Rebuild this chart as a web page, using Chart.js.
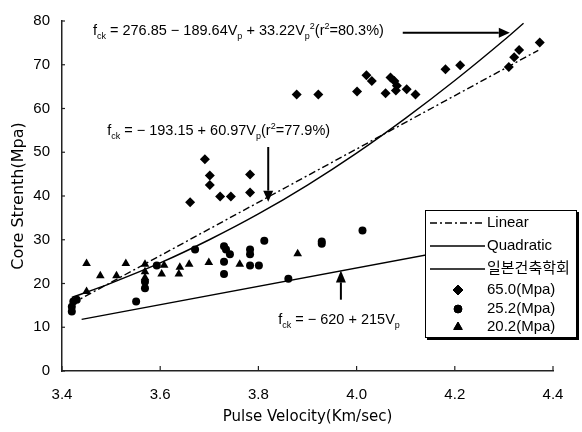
<!DOCTYPE html>
<html><head><meta charset="utf-8">
<script src="https://cdn.jsdelivr.net/npm/chart.js@4/dist/chart.umd.min.js"></script>
<style>html,body{margin:0;padding:0;background:#fff;}#wrap{width:582px;height:432px;}</style>
</head><body><div id="wrap"><canvas id="c" width="582" height="432"></canvas></div>
<script>
// ---- data ----
const xTicks = [3.4, 3.6, 3.8, 4.0, 4.2, 4.4];
const yTicks = [0, 10, 20, 30, 40, 50, 60, 70, 80];

const v65 = [3.661, 3.691, 3.701, 3.701, 3.722, 3.744, 3.783, 3.783, 3.878, 3.922, 4.001, 4.020, 4.031, 4.059, 4.069, 4.077, 4.082, 4.080, 4.102, 4.120, 4.181, 4.211, 4.310, 4.321, 4.331, 4.373];
const f65 = [38.6, 48.4, 44.7, 42.5, 39.9, 39.9, 44.9, 40.8, 63.2, 63.2, 63.9, 67.6, 66.3, 63.5, 67.1, 66.3, 65.2, 64.1, 64.4, 63.2, 69.0, 69.9, 69.5, 71.7, 73.4, 75.1];

const v25 = [3.420, 3.420, 3.423, 3.430, 3.551, 3.569, 3.569, 3.593, 3.671, 3.730, 3.734, 3.742, 3.730, 3.730, 3.783, 3.783, 3.783, 3.801, 3.812, 3.861, 3.929, 3.929, 4.012];
const f25 = [13.6, 14.7, 15.9, 16.3, 15.9, 18.9, 20.4, 24.1, 27.8, 28.5, 27.8, 26.7, 25.0, 22.2, 27.8, 26.7, 24.1, 24.1, 29.8, 21.1, 29.1, 29.6, 32.1];

const v20 = [3.450, 3.450, 3.478, 3.511, 3.530, 3.569, 3.569, 3.569, 3.603, 3.608, 3.638, 3.640, 3.659, 3.699, 3.762, 3.880];
const f20 = [24.6, 18.2, 21.8, 21.8, 24.6, 24.4, 22.7, 21.3, 22.2, 24.2, 22.2, 23.7, 24.4, 24.8, 24.4, 26.8];

const linV = [3.42, 4.37];
const linF = [15.4, 73.3];
const quadV = [3.42, 3.5, 3.6, 3.7, 3.8, 3.9, 4.0, 4.1, 4.2, 4.3, 4.34];
const quadF = [16.8, 20.1, 24.7, 30.0, 35.9, 42.5, 49.8, 57.8, 66.4, 75.6, 79.5];
const aijV = [3.44, 4.37];
const aijF = [11.8, 31.3];

const seriesLabels = ['Linear', 'Quadratic', '일본건축학회', '65.0(Mpa)', '25.2(Mpa)', '20.2(Mpa)'];

const pts = (xs, ys) => xs.map((x, i) => ({x: x, y: ys[i]}));
const LAT = "'Liberation Sans', Arial, sans-serif";
const KR = "'Liberation Sans', 'Noto Sans CJK KR', sans-serif";

function arrow(ctx, x1, y1, x2, y2, head, hw, lw) {
  ctx.save();
  ctx.strokeStyle = '#000'; ctx.fillStyle = '#000'; ctx.lineWidth = lw;
  const a = Math.atan2(y2 - y1, x2 - x1);
  const bx = x2 - head * Math.cos(a), by = y2 - head * Math.sin(a);
  ctx.beginPath(); ctx.moveTo(x1, y1); ctx.lineTo(bx, by); ctx.stroke();
  ctx.beginPath(); ctx.moveTo(x2, y2);
  ctx.lineTo(bx - hw * Math.sin(a), by + hw * Math.cos(a));
  ctx.lineTo(bx + hw * Math.sin(a), by - hw * Math.cos(a));
  ctx.closePath(); ctx.fill();
  ctx.restore();
}
function rich(ctx, x, y, parts, size, align) {
  const small = size * 0.62;
  let w = 0;
  parts.forEach(([t, m]) => { ctx.font = (m ? small : size) + 'px ' + LAT; w += ctx.measureText(t).width; });
  let cx = align === 'right' ? x - w : x;
  ctx.textBaseline = 'alphabetic'; ctx.textAlign = 'left'; ctx.fillStyle = '#000';
  parts.forEach(([t, m]) => {
    ctx.font = (m ? small : size) + 'px ' + LAT;
    const dy = m === 1 ? size * 0.28 : (m === 2 ? -size * 0.42 : 0);
    ctx.fillText(t, cx, y + dy);
    cx += ctx.measureText(t).width;
  });
}

const annoPlugin = {
  id: 'anno',
  afterDatasetsDraw(chart) {
    const ctx = chart.ctx, xs = chart.scales.x, ys = chart.scales.y;
    const X = v => xs.getPixelForValue(v), Y = v => ys.getPixelForValue(v);
    ctx.save();
    // small tick marks
    ctx.strokeStyle = '#222'; ctx.lineWidth = 1.2;
    xTicks.forEach(t => { ctx.beginPath(); ctx.moveTo(X(t), Y(0)); ctx.lineTo(X(t), Y(0) - 5); ctx.stroke(); });
    yTicks.forEach(t => { ctx.beginPath(); ctx.moveTo(X(3.4), Y(t)); ctx.lineTo(X(3.4) + 3, Y(t)); ctx.stroke(); });
    // formulas + arrows
    rich(ctx, X(3.463), Y(78.0) + 5, [['f',0],['ck',1],[' = 276.85 − 189.64V',0],['p',1],[' + 33.22V',0],['p',1],['2',2],['(r',0],['2',2],['=80.3%)',0]], 14.5);
    arrow(ctx, X(4.094), Y(77.3), X(4.312), Y(77.3), 11, 5, 2);
    rich(ctx, X(3.492), Y(55.0) + 5, [['f',0],['ck',1],[' = − 193.15 + 60.97V',0],['p',1],['(r',0],['2',2],['=77.9%)',0]], 14.5);
    arrow(ctx, X(3.82), Y(51.2), X(3.82), Y(38.7), 11, 5, 2);
    rich(ctx, X(4.088), Y(11.8) + 5, [['f',0],['ck',1],[' = − 620 + 215V',0],['p',1]], 14.5, 'right');
    arrow(ctx, X(3.968), Y(16.3), X(3.968), Y(23.0), 12, 5, 2);
    // legend box
    const bx = 425, by = 210, bw = 152, bh = 128;
    ctx.fillStyle = '#000'; ctx.fillRect(bx + 2, by + 2, bw, bh);
    ctx.fillStyle = '#fff'; ctx.fillRect(bx, by, bw, bh);
    ctx.strokeStyle = '#000'; ctx.lineWidth = 1; ctx.strokeRect(bx + 0.5, by + 0.5, bw - 1, bh - 1);
    const rows = [223, 246, 269, 290, 309, 327];
    const ds = chart.data.datasets;
    rows.forEach((ry, i) => {
      const d = ds[i];
      if (d.showLine) {
        ctx.save(); ctx.strokeStyle = '#000'; ctx.lineWidth = 1.3; ctx.setLineDash(d.borderDash || []);
        ctx.beginPath(); ctx.moveTo(430, ry); ctx.lineTo(485, ry); ctx.stroke(); ctx.restore();
      } else {
        ctx.fillStyle = '#000'; ctx.strokeStyle = '#000';
        Chart.helpers.drawPoint(ctx, {pointStyle: d.pointStyle, radius: d.pointRadius, borderWidth: 1}, 458, ry);
        ctx.fill();
      }
      ctx.fillStyle = '#000'; ctx.font = '15px ' + KR; ctx.textBaseline = 'middle'; ctx.textAlign = 'left';
      ctx.fillText(d.label, 487, ry);
    });
    ctx.restore();
  }
};

new Chart(document.getElementById('c'), {
  type: 'scatter',
  data: {
    datasets: [
      {label: seriesLabels[0], data: pts(linV, linF), showLine: true, borderColor: '#000', borderWidth: 1.4, borderDash: [7, 3, 2, 3], pointRadius: 0},
      {label: seriesLabels[1], data: pts(quadV, quadF), showLine: true, borderColor: '#000', borderWidth: 1.4, cubicInterpolationMode: 'monotone', pointRadius: 0},
      {label: seriesLabels[2], data: pts(aijV, aijF), showLine: true, borderColor: '#000', borderWidth: 1.4, pointRadius: 0},
      {label: seriesLabels[3], data: pts(v65, f65), pointStyle: 'rectRot', pointRadius: 5, backgroundColor: '#000', borderColor: '#000', borderWidth: 0},
      {label: seriesLabels[4], data: pts(v25, f25), pointStyle: 'circle', pointRadius: 4, backgroundColor: '#000', borderColor: '#000', borderWidth: 0},
      {label: seriesLabels[5], data: pts(v20, f20), pointStyle: 'triangle', pointRadius: 5, backgroundColor: '#000', borderColor: '#000', borderWidth: 0}
    ]
  },
  options: {
    responsive: false, animation: false,
    layout: {padding: {left: 0, right: 29, top: 13, bottom: 0}},
    plugins: {legend: {display: false}, tooltip: {enabled: false}},
    scales: {
      x: {
        type: 'linear', min: 3.4, max: 4.4,
        afterBuildTicks: s => { s.ticks = xTicks.map(v => ({value: v})); },
        ticks: {callback: v => Number(v).toFixed(1), color: '#000', font: {family: LAT, size: 15}, padding: 15, maxRotation: 0},
        grid: {display: true, drawOnChartArea: false, drawTicks: false},
        border: {display: true, color: '#222', width: 1.5},
        title: {display: true, text: 'Pulse Velocity(Km/sec)', color: '#000', font: {family: "'DejaVu Sans'", size: 15}, padding: {top: 0, bottom: 6}},
        afterFit: s => { s.height = 61; }
      },
      y: {
        type: 'linear', min: 0, max: 80,
        afterBuildTicks: s => { s.ticks = yTicks.map(v => ({value: v})); },
        ticks: {color: '#000', font: {family: LAT, size: 15}, padding: 12},
        grid: {display: true, drawOnChartArea: false, drawTicks: false},
        border: {display: true, color: '#222', width: 1.5},
        title: {display: true, text: 'Core Strenth(Mpa)', color: '#000', font: {family: "'DejaVu Sans'", size: 16}, padding: {top: 9.5, bottom: 0}},
        afterFit: s => { s.width = 62; }
      }
    }
  },
  plugins: [annoPlugin]
});
</script>
</body></html>
